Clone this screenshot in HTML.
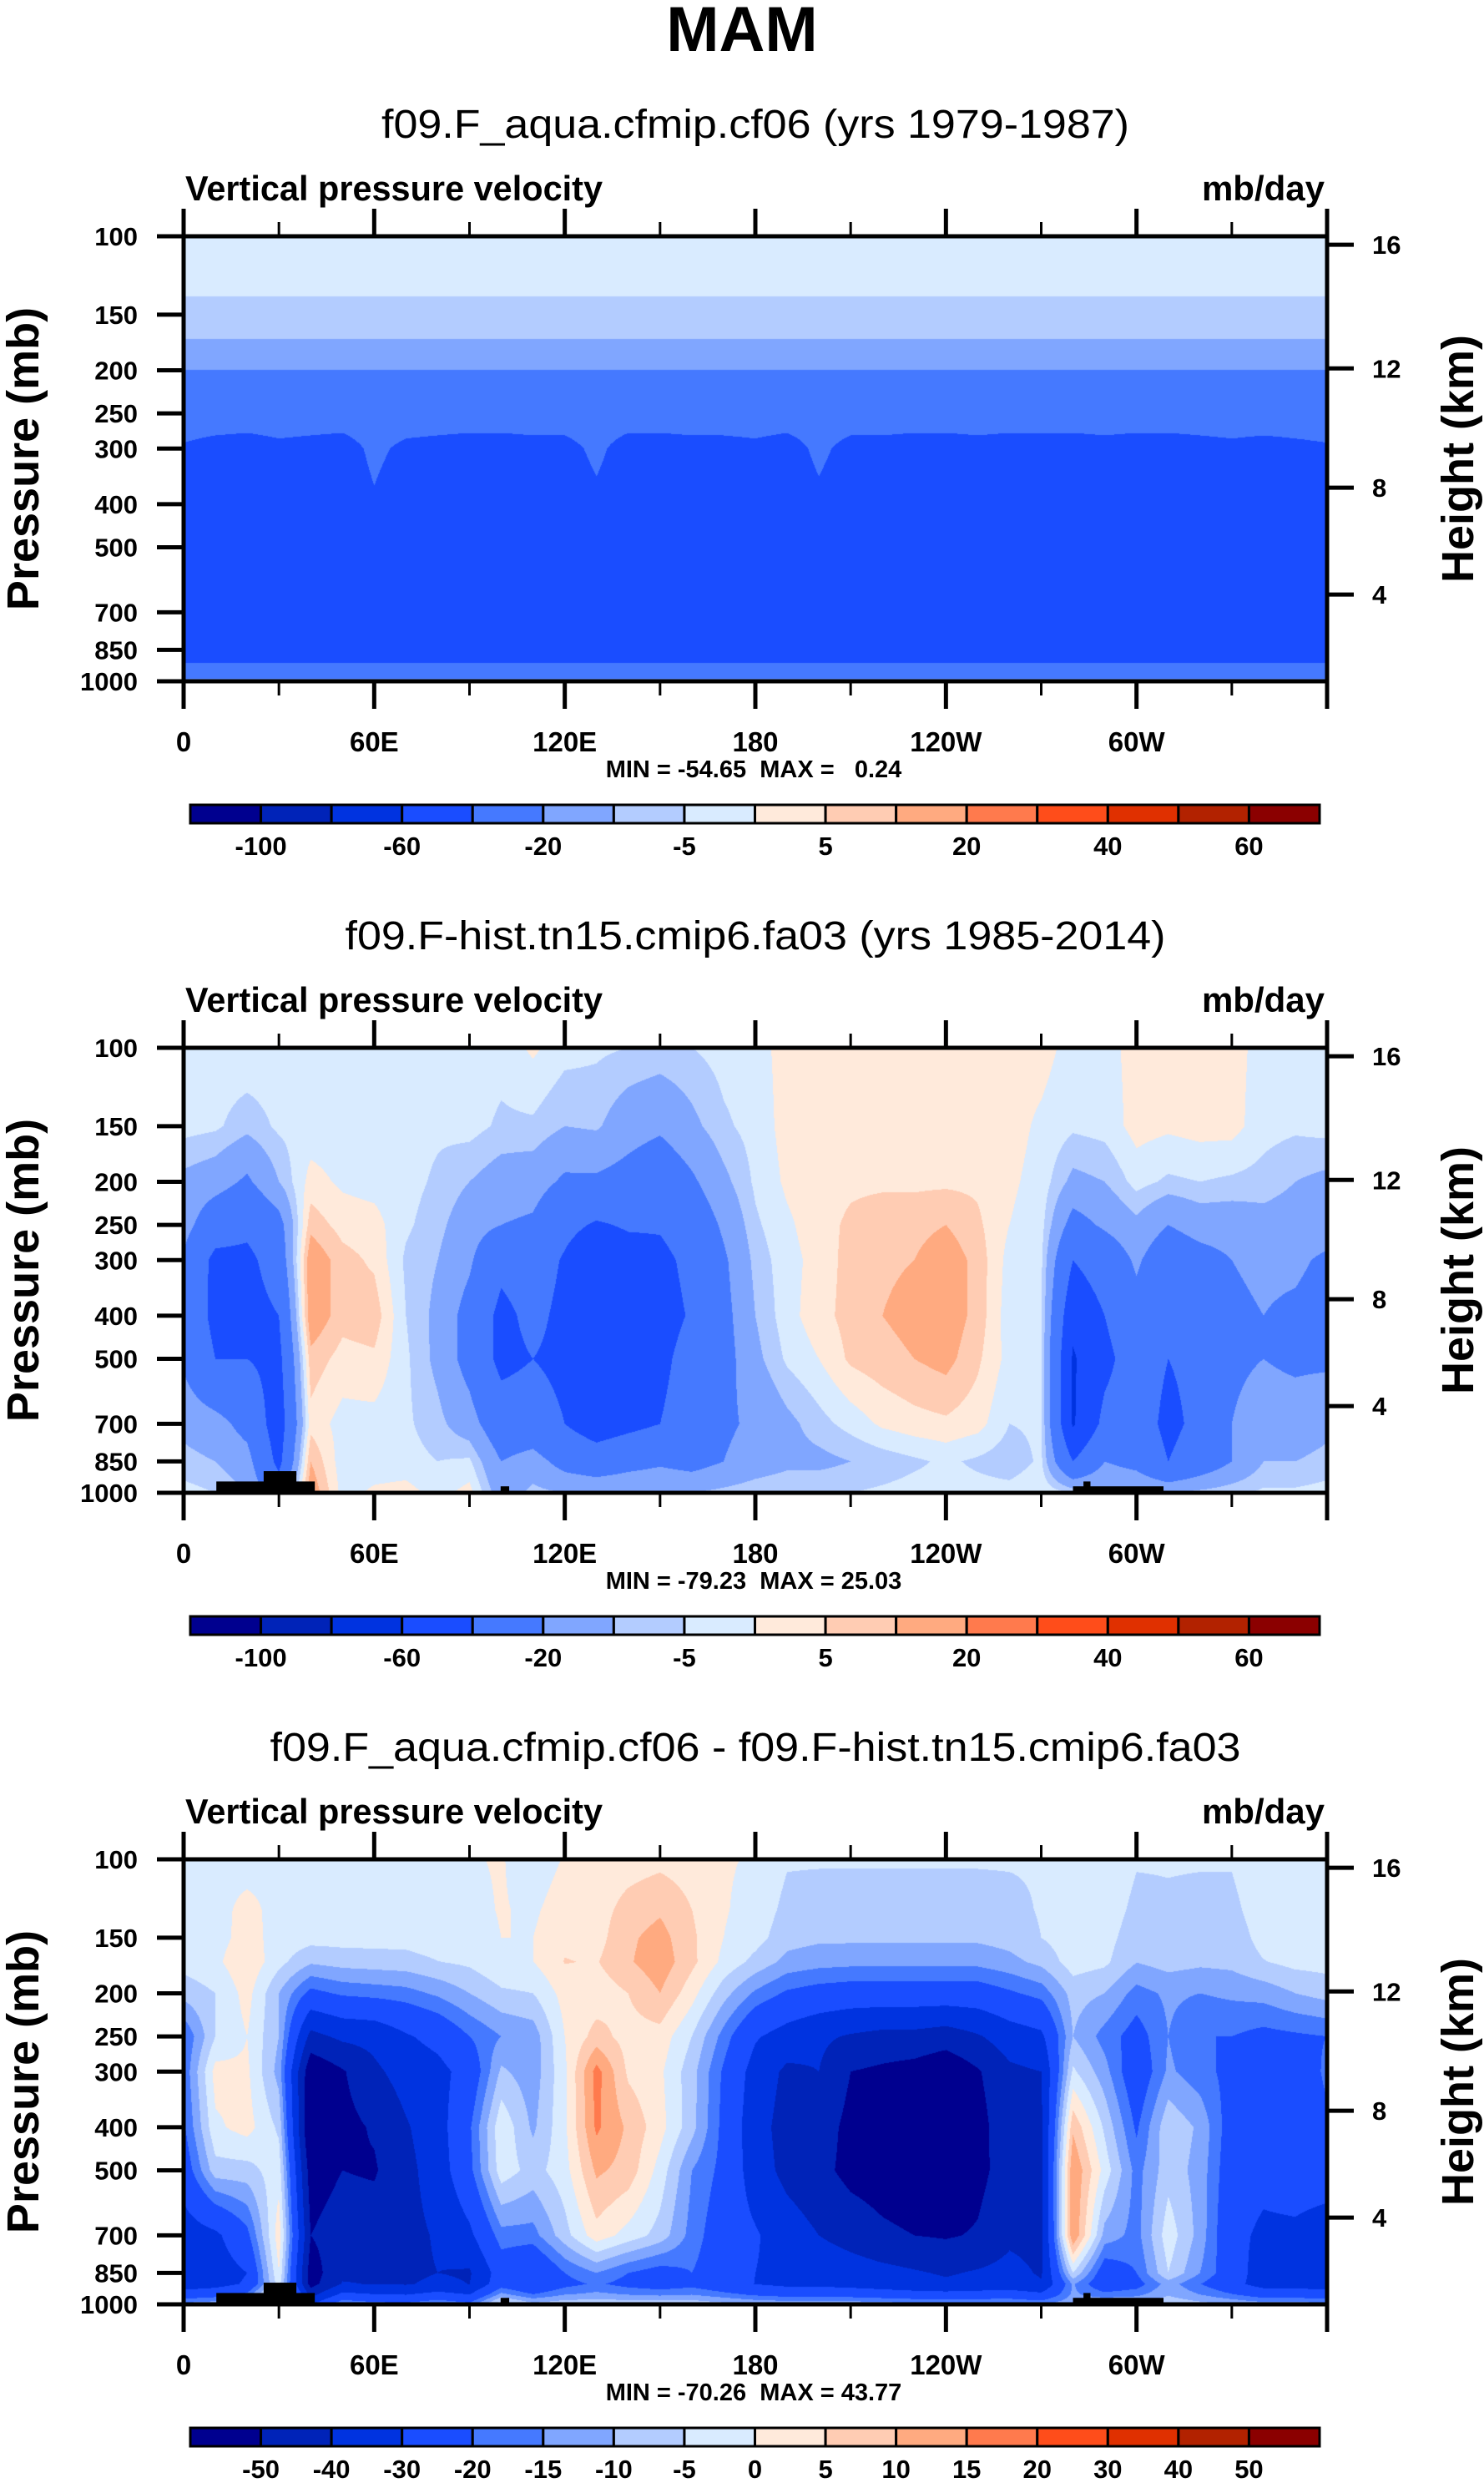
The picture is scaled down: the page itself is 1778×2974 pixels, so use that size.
<!DOCTYPE html>
<html><head><meta charset="utf-8">
<style>
html,body{margin:0;padding:0;background:#fff;}
#wrap{position:relative;width:1778px;height:2974px;overflow:hidden;background:#fff;}
canvas{position:absolute;}
svg{position:absolute;left:0;top:0;}
text{font-family:"Liberation Sans",Arial,sans-serif;fill:#000;}
</style></head>
<body>
<div id="wrap">
<canvas id="c0"></canvas>
<canvas id="c1"></canvas>
<canvas id="c2"></canvas>
<svg id="svg" width="1778" height="2974"></svg>
</div>
<script>
// ---- data ----
const histLevels = [1000,850,700,500,400,300,250,200,150,100];
const histLons = [0,10,20,30,40,50,60,70,80,90,100,110,120,130,140,150,160,170,180,190,200,210,220,230,240,250,260,270,280,290,300,310,320,330,340,350];
const histCols = [
[-3,-8,-12,-22,-25,-22,-15,-12,-3,-2],
[-5,-10,-15,-40,-45,-45,-30,-15,-4,-2],
[-10,-15,-25,-40,-48,-45,-35,-22,-8,-1],
[-30,-45,-50,-45,-40,-30,-25,-10,-4,-2],
[15,10,3,8,15,15,8,2,-3,-1],
[-2,-3,-2,3,7,7,3,-1,-3,-2],
[1,-3,-2,4,8,4,2,-2,-3,-2],
[2,-3,-4,-4,-5,-6,-4,-3,-3,-2],
[-2,-5,-8,-12,-12,-10,-8,-6,-4,-2],
[2,-4,-15,-25,-25,-18,-15,-10,-3,-2],
[-15,-20,-30,-45,-45,-35,-20,-14,-6,-3],
[-8,-15,-30,-40,-35,-30,-22,-15,-6,1],
[-10,-25,-40,-45,-45,-42,-35,-22,-10,-3],
[-10,-30,-50,-58,-58,-55,-42,-22,-9,-4],
[-10,-25,-45,-55,-55,-48,-38,-25,-15,-5],
[-10,-22,-40,-45,-48,-45,-38,-30,-18,-6],
[-10,-25,-30,-32,-38,-35,-30,-22,-12,-5],
[-8,-20,-22,-25,-24,-22,-18,-12,-6,-3],
[-6,-15,-18,-12,-10,-8,-6,-4,-3,-2],
[-5,-12,-12,-4,-2,-2,-1,1,2,2],
[-5,-12,-7,0,3,2,3,3,3,2],
[-5,-10,-3,6,7,7,6,4,3,2],
[-4,-8,1,8,10,9,8,4,3,2],
[-3,-6,3,10,12,10,8,4,3,2],
[-3,-4,4,12,14,14,10,4,3,2],
[-3,-6,2,6,8,8,6,4,3,2],
[-3,-8,-5,-2,-3,-2,0,1,2,2],
[-1,-4,-4,-5,-4,-4,-3,-2,-1,2],
[-5,-40,-62,-62,-55,-40,-25,-12,-4,-2],
[-8,-20,-35,-45,-40,-30,-18,-10,-3,-2],
[-8,-25,-30,-30,-25,-18,-12,-3,2,2],
[-10,-40,-45,-40,-40,-30,-20,-6,1,2],
[-8,-30,-35,-35,-35,-25,-15,-5,2,2],
[-6,-20,-20,-22,-22,-20,-15,-6,2,2],
[-4,-10,-15,-20,-20,-18,-13,-7,-3,-2],
[-4,-10,-15,-22,-22,-18,-14,-10,-4,-2]
];
// aqua-planet profile (mostly zonally uniform)
const aquaLevels = [1000,950,900,850,700,500,400,300,250,200,170,150,130,100];
const aquaValues = [-16,-30,-42,-45,-47,-47,-46,-43,-35,-20,-10,-6,-4.5,-2.5];
// per-longitude values of aqua at 400 and 300 mb (dips at ~64E, 134E, 197E)
const aqua400 = [-46,-46,-46,-46,-46,-46,-41,-46,-46,-46,-46,-46,-46,-42,-46,-46,-46,-46,-46,-46,-42,-46,-46,-46,-46,-46,-46,-46,-46,-46,-46,-46,-46,-46,-46,-46];
const aqua300 = [-41,-43,-44,-42,-43,-44,-38,-42,-43,-44,-44,-43,-43,-38,-44,-44,-43,-43,-42,-44,-38,-43,-43,-44,-44,-43,-44,-44,-44,-43,-44,-44,-43,-42,-43,-42];
// land mask blocks
const landLon0 = [10.3,25.2,99.8,280,283.3];
const landLon1 = [41.3,35.5,102.5,308.5,285.5];
const landTopP = [943,894,967,967,943];
// colour scales
const palette = ["#00008f","#0023b8","#0033e0","#1a4dff","#4579ff","#80a6ff","#b3ccff","#d9ebff","#ffeadb","#ffccb3","#ffaa80","#ff7a4d","#ff4d1a","#e03000","#b22200","#8b0000"];
const levelsAbs = [-100,-80,-60,-40,-20,-10,-5,0,5,10,20,30,40,50,60];
const labelsAbs = ["-100","","-60","","-20","","-5","","5","","20","","40","","60"];
const levelsDiff = [-50,-40,-30,-20,-15,-10,-5,0,5,10,15,20,30,40,50];
const labelsDiff = ["-50","-40","-30","-20","-15","-10","-5","0","5","10","15","20","30","40","50"];
const xTickLons = [0,60,120,180,240,300];
const xTickLabels = ["0","60E","120E","180","120W","60W"];
const pTicks = [100,150,200,250,300,400,500,700,850,1000];
const hTickLabels = ["16","12","8","4"];
const hTickFrac = [0.981,0.703,0.435,0.195];
const subtitles = ["f09.F_aqua.cfmip.cf06 (yrs 1979-1987)","f09.F-hist.tn15.cmip6.fa03 (yrs 1985-2014)","f09.F_aqua.cfmip.cf06 - f09.F-hist.tn15.cmip6.fa03"];
const subtitleWidths = [896,983,1163];
const minmax = ["MIN = -54.65  MAX =   0.24","MIN = -79.23  MAX = 25.03","MIN = -70.26  MAX = 43.77"];

// ---- geometry ----
const L=220, R=1590, W=R-L, T0=283, H=533, OFF=972;
const xOf = lon => L + W*lon/360;
const yOf = (p,top) => top + H - H*Math.log10(1000/p);

function interp1(levels, vals, p){
  const lp=Math.log(p);
  for(let i=0;i<levels.length-1;i++){
    const a=Math.log(levels[i]), b=Math.log(levels[i+1]);
    if(lp<=a && lp>=b){const t=(a-lp)/(a-b);return vals[i]*(1-t)+vals[i+1]*t;}
  }
  return lp>Math.log(levels[0])?vals[0]:vals[vals.length-1];
}
const aquaCols = histLons.map((_,i)=>{const v=aquaValues.slice();v[6]=aqua400[i];v[7]=aqua300[i];return v;});
function gridVal(cols,levels,lon,p){
  const n=cols.length; const f=lon/10; let i=Math.floor(f); const t=f-i; i=i%n; const j=(i+1)%n;
  return interp1(levels,cols[i],p)*(1-t)+interp1(levels,cols[j],p)*t;
}
function aquaVal(lon,p){return gridVal(aquaCols,aquaLevels,lon,p);}
function histVal(lon,p){return gridVal(histCols,histLevels,lon,p);}
function binIndex(v,levels){let k=0;while(k<levels.length && v>=levels[k])k++;return k;}
const rgbPal = palette.map(h=>[parseInt(h.substr(1,2),16),parseInt(h.substr(3,2),16),parseInt(h.substr(5,2),16)]);

function drawCanvas(id,panel){
  const c=document.getElementById(id); c.width=W; c.height=H;
  c.style.left=L+'px'; c.style.top=(T0+OFF*panel)+'px';
  const ctx=c.getContext('2d'); const img=ctx.createImageData(W,H);
  const levels = panel===2?levelsDiff:levelsAbs;
  const pRow=[]; for(let y=0;y<H;y++){pRow.push(1000*Math.pow(10,-(H-y-0.5)/H));}
  for(let x=0;x<W;x++){
    const lon=(x+0.5)/W*360;
    for(let y=0;y<H;y++){
      const p=pRow[y]; let v;
      if(panel===0)v=aquaVal(lon,p); else if(panel===1)v=histVal(lon,p); else v=aquaVal(lon,p)-histVal(lon,p);
      const rgb=rgbPal[binIndex(v,levels)]; const o=(y*W+x)*4;
      img.data[o]=rgb[0];img.data[o+1]=rgb[1];img.data[o+2]=rgb[2];img.data[o+3]=255;
    }
  }
  ctx.putImageData(img,0,0);
}
drawCanvas('c0',0);drawCanvas('c1',1);drawCanvas('c2',2);

const svg=document.getElementById('svg'); const NS="http://www.w3.org/2000/svg";
function mk(tag,attrs,parent){const e=document.createElementNS(NS,tag);for(const k in attrs)e.setAttribute(k,attrs[k]);(parent||svg).appendChild(e);return e;}
function txt(s,attrs,parent){const e=mk('text',attrs,parent);e.textContent=s;return e;}

const t=txt("MAM",{x:889,y:61,'font-size':76,'font-weight':'bold','text-anchor':'middle'});



for(let pnl=0;pnl<3;pnl++){
  const top=T0+OFF*pnl, bot=top+H;
  const g=mk('g',{});
  
  
  let e=txt(subtitles[pnl],{x:905,y:top-118,'font-size':48,'text-anchor':'middle',textLength:subtitleWidths[pnl],lengthAdjust:'spacingAndGlyphs'},g);
  
  
  e=txt("Vertical pressure velocity",{x:222,y:top-43,'font-size':42,'font-weight':'bold',textLength:500,lengthAdjust:'spacingAndGlyphs'},g);
  
  
  e=txt("mb/day",{x:1587,y:top-43,'font-size':42,'font-weight':'bold','text-anchor':'end'},g);
  
  
  if(pnl>0){
    for(let i=0;i<landLon0.length;i++){
      e=mk('rect',{x:xOf(landLon0[i]),y:yOf(landTopP[i],top),width:xOf(landLon1[i])-xOf(landLon0[i]),height:bot-yOf(landTopP[i],top),fill:'#000'},g);
      
      
    }
  }
  e=mk('rect',{x:L,y:top,width:W,height:H,fill:'none',stroke:'#000','stroke-width':5},g);
  
  
  for(let lon=0;lon<=360;lon+=30){
    const major=lon%60===0, len=major?33:17, x=xOf(lon);
    e=mk('line',{x1:x,y1:top,x2:x,y2:top-len,stroke:'#000','stroke-width':major?5:3},g);
    
    
    e=mk('line',{x1:x,y1:bot,x2:x,y2:bot+len,stroke:'#000','stroke-width':major?5:3},g);
    
    
  }
  for(let i=0;i<xTickLons.length;i++){
    e=txt(xTickLabels[i],{x:xOf(xTickLons[i]),y:bot+84,'font-size':33,'font-weight':'bold','text-anchor':'middle'},g);
    
    
  }
  for(const p of pTicks){
    const y=yOf(p,top);
    e=mk('line',{x1:L,y1:y,x2:L-32,y2:y,stroke:'#000','stroke-width':5},g);
    
    
    e=txt(String(p),{x:165,y:y+11,'font-size':31,'font-weight':'bold','text-anchor':'end'},g);
    
    
  }
  e=txt("Pressure (mb)",{x:0,y:0,'font-size':54,'font-weight':'bold','text-anchor':'middle',transform:`translate(46,${top+H/2}) rotate(-90)`},g);
  
  
  for(let i=0;i<hTickLabels.length;i++){
    const y=bot-H*hTickFrac[i];
    e=mk('line',{x1:R,y1:y,x2:R+32,y2:y,stroke:'#000','stroke-width':5},g);
    
    
    e=txt(hTickLabels[i],{x:1644,y:y+11,'font-size':31,'font-weight':'bold'},g);
    
    
  }
  e=txt("Height (km)",{x:0,y:0,'font-size':54,'font-weight':'bold','text-anchor':'middle',transform:`translate(1765,${top+H/2}) rotate(-90)`},g);
  
  
  e=txt(minmax[pnl],{x:903,y:bot+115,'font-size':29,'font-weight':'bold','text-anchor':'middle'},g);
  e.style.whiteSpace='pre';
  
  
  const cbL=228, cbR=1581, cbT=top+681, cbH=22, bw=(cbR-cbL)/16;
  const cg=mk('g',{},g);
  
  
  for(let k=0;k<16;k++){
    e=mk('rect',{x:cbL+k*bw,y:cbT,width:bw,height:cbH,fill:palette[k],stroke:'#000','stroke-width':3},cg);
    
    
  }
  const labs = pnl===2?labelsDiff:labelsAbs;
  for(let k=0;k<labs.length;k++){
    if(!labs[k])continue;
    e=txt(labs[k],{x:cbL+(k+1)*bw,y:cbT+60,'font-size':31,'font-weight':'bold','text-anchor':'middle'},cg);
    
    
  }
}
</script>
</body></html>
